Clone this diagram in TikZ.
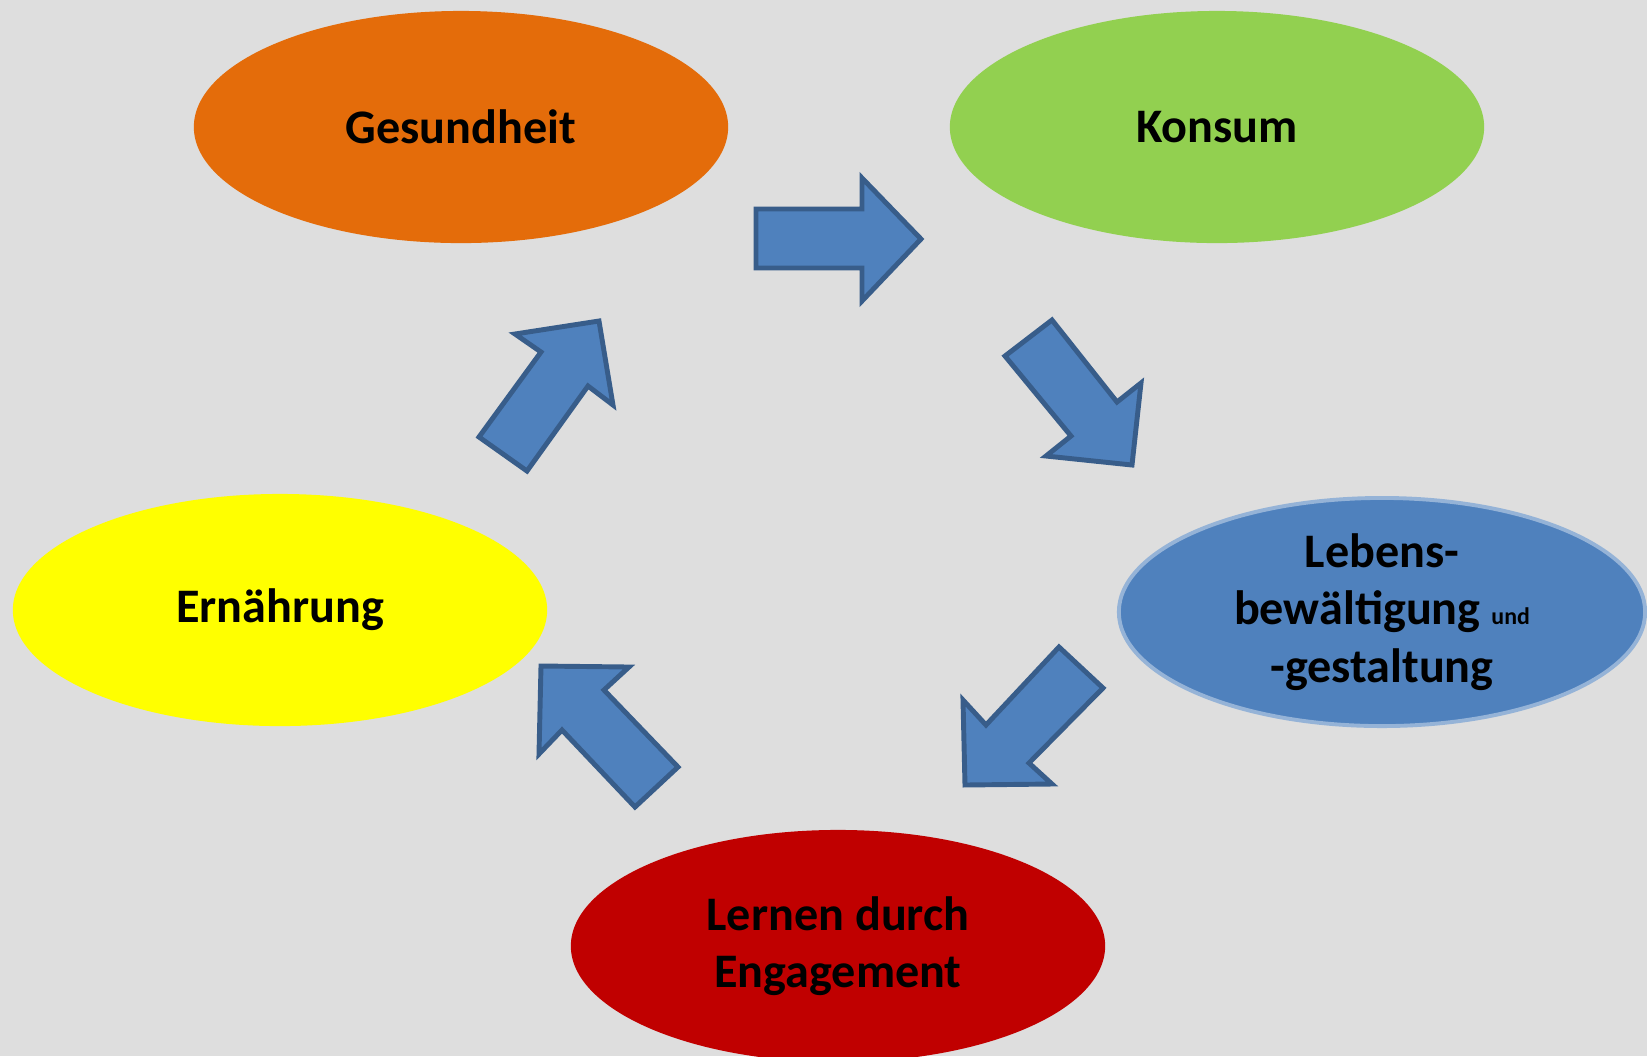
\documentclass[tikz,border=0pt]{standalone}
\usepackage{fontspec}
\setmainfont{Carlito}
\usetikzlibrary{shapes.geometric}
\definecolor{hgrau}{RGB}{222,222,222}
\definecolor{orangeg}{RGB}{228,108,10}
\definecolor{gruenk}{RGB}{146,208,80}
\definecolor{gelbe}{RGB}{255,255,0}
\definecolor{blaul}{RGB}{79,129,189}
\definecolor{randl}{RGB}{149,179,215}
\definecolor{rotl}{RGB}{192,0,0}
\definecolor{pfeilblau}{RGB}{79,129,189}
\definecolor{pfeilrand}{RGB}{56,93,138}
\begin{document}
\begin{tikzpicture}[x=0.01cm,y=-0.01cm,
  feld/.style={ellipse, minimum width=5.34cm, minimum height=2.32cm, inner sep=0pt,
    align=center, font=\fontsize{13.7}{16.4}\selectfont\bfseries},
  pfeil/.style={fill=pfeilblau, draw=pfeilrand, line width=1.4pt, line join=miter}]
% Hintergrund
\fill[hgrau] (0,0) rectangle (1647,1056);
\useasboundingbox (0,0) rectangle (1647,1056);
% Felder
\node[feld, fill=orangeg] (gesundheit) at (461,127) {Gesundheit};
\node[feld, fill=gruenk] (konsum) at (1217,127) {Konsum};
\node[feld, fill=blaul, draw=randl, line width=1.1pt, minimum width=5.26cm, minimum height=2.28cm]
  (lebens) at (1382,612) {Lebens-\\bewältigung {\fontsize{6.8}{8}\selectfont und}\\-gestaltung};
\node[feld, fill=rotl] (lernen) at (838,946) {Lernen durch\\Engagement};
\node[feld, fill=gelbe] (ernaehrung) at (280,610) {Ernährung};
% Pfeile
\draw[pfeil] (756,209) -- (862,209) -- (862,178) -- (921,239) -- (862,301) -- (862,268) -- (756,268) -- cycle;
\draw[pfeil] (1052,320) -- (1117,402) -- (1141,383) -- (1132,465) -- (1046,456) -- (1071,436) -- (1005,356) -- cycle;
\draw[pfeil] (1059,647) -- (986,725) -- (963,700) -- (965,785) -- (1052,784) -- (1029,763) -- (1103,688) -- cycle;
\draw[pfeil] (678,767) -- (604,690) -- (629,667) -- (541,666) -- (539,754) -- (562,730) -- (635,807) -- cycle;
\draw[pfeil] (479,437) -- (541,352) -- (515,334) -- (599,321) -- (613,405) -- (588,386) -- (527,471) -- cycle;
\end{tikzpicture}
\end{document}
